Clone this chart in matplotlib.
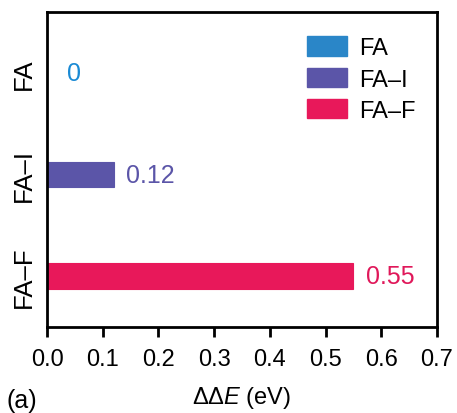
import matplotlib
matplotlib.use('Agg')
import matplotlib.pyplot as plt
from matplotlib.patches import Patch

systems = ['FA', 'FA\u2013I', 'FA\u2013F']
delta_e = [0.0, 0.12, 0.55]
value_labels = ['0', '0.12', '0.55']
colors = ['#2a86c8', '#5b55a8', '#e8185a']
text_colors = ['#1a8ad4', '#5b55a8', '#e0185a']

plt.rcParams['font.family'] = ['Liberation Sans', 'DejaVu Sans']
plt.rcParams['mathtext.fontset'] = 'custom'
plt.rcParams['mathtext.rm'] = 'Liberation Sans'
plt.rcParams['mathtext.it'] = 'Liberation Sans:italic'

fig = plt.figure(figsize=(4.57, 4.14), dpi=100)
ax = fig.add_axes([47 / 457, 1 - 328 / 414, 390 / 457, 315 / 414])

ypos = list(range(len(systems)))
ax.barh(ypos, delta_e, height=0.25, color=colors, edgecolor=colors, linewidth=0.8)

for y, v, lab, c in zip(ypos, delta_e, value_labels, text_colors):
    x = 0.035 if v == 0 else v + 0.022
    ax.text(x, y, lab, color=c, fontsize=18, va='center', ha='left')

ax.set_xlim(0, 0.7)
ax.set_ylim(2.5, -0.6)
ax.set_xticks([0.0, 0.1, 0.2, 0.3, 0.4, 0.5, 0.6, 0.7])
ax.set_xticklabels(['0.0', '0.1', '0.2', '0.3', '0.4', '0.5', '0.6', '0.7'], fontsize=17)
ax.set_yticks(ypos)
ax.set_yticklabels(systems, rotation=90, va='center', fontsize=18.5)
ax.tick_params(axis='x', direction='out', length=7, width=2, pad=8)
ax.tick_params(axis='y', length=0, pad=8)
for sp in ax.spines.values():
    sp.set_linewidth(2)

ax.set_xlabel(r'$\Delta\Delta\mathit{E}$ (eV)', fontsize=17, labelpad=10)
fig.text(6 / 457, 1 - 401 / 414, '(a)', fontsize=18, va='center', ha='left')

handles = [Patch(facecolor=c, edgecolor=c) for c in colors]
ax.legend(handles, systems, loc='upper right', frameon=False, fontsize=17,
          handlelength=1.7, handleheight=0.9, handletextpad=0.5, labelspacing=0.35,
          bbox_to_anchor=(1.0, 0.99))

fig.savefig('out.png', dpi=100)
